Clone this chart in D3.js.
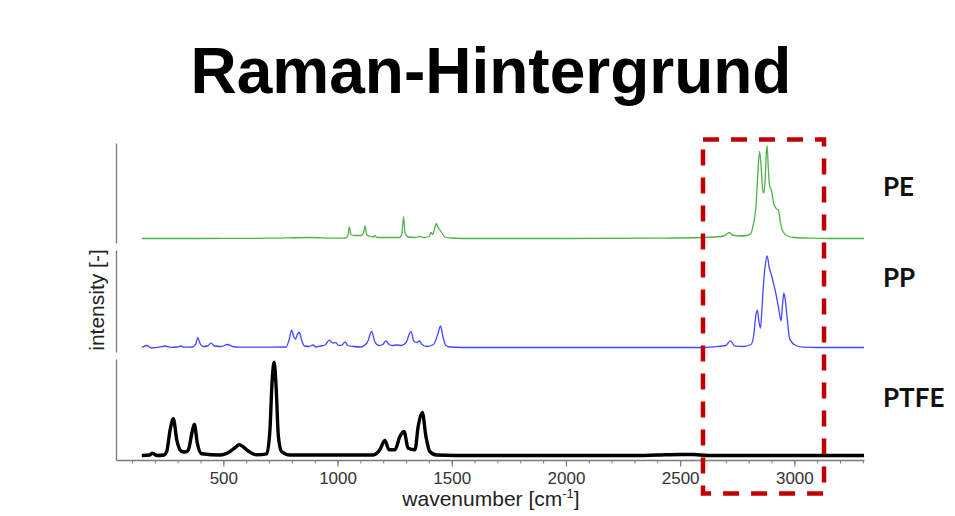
<!DOCTYPE html>
<html>
<head>
<meta charset="utf-8">
<script src="https://cdn.jsdelivr.net/npm/d3@7"></script>
<style>
  html, body { margin: 0; padding: 0; background: #fff; }
  svg { display: block; }
</style>
</head>
<body>
<svg id="chart" width="955" height="516"></svg>
<script>
// ---------- data ----------
const chartTitle = "Raman-Hintergrund";
const categories = ["PE", "PP", "PTFE"];
const seriesColors = ["#4fb34a", "#4646ff", "#000000"];
const xTicks = [500, 1000, 1500, 2000, 2500, 3000];
const xMinorTicks = d3.range(100, 3301, 100);
const highlightRange = [2600, 3130];

// [wavenumber, relative intensity]
const peSpectrum = [
  [143,0],[400,0],[700,0.3],[880,1],[980,0.4],[1035,0.5],[1045,3],[1052,11.5],[1058,4],[1075,3],
  [1105,3],[1114,6],[1121,12.5],[1127,4],[1145,2],[1157,1.5],[1164,3],[1172,1],[1200,1],[1272,1],
  [1282,5],[1289,21.5],[1296,5],[1310,1.5],[1340,1],[1360,2],[1378,1],[1400,2],[1410,6],[1416,4],
  [1426,11],[1433,15],[1440,11],[1450,8],[1458,5],[1470,1.5],[1495,0.5],[1600,0],[2000,0],[2400,0.4],
  [2600,1],[2680,2],[2702,4],[2716,6],[2728,3.5],[2760,2.5],[2790,3],[2810,5],[2819,12.6],[2833,35],
  [2840,64],[2848,87],[2855,70],[2862,48],[2867,45.5],[2872,58],[2877,85],[2881,92.5],[2886,70],
  [2892,52.3],[2900,48],[2909,35.7],[2920,30],[2931,28],[2938,18],[2945,10],[2953,6],[2970,2.5],
  [3000,1],[3080,0.3],[3150,0],[3305,0]
];
const ppSpectrum = [
  [143,0],[165,2],[185,-0.5],[220,0.3],[245,1.5],[270,0.2],[300,0.5],[312,1.5],[330,0.3],[365,0.5],
  [380,4],[388,10],[398,4],[412,1],[430,1.5],[446,4.4],[462,1.5],[490,1],[519,3],[540,1],[570,0.3],
  [775,0.5],[788,8],[799,17.4],[808,11],[816,8.5],[826,14],[833,15],[842,8],[855,1.5],[875,1],
  [893,2.5],[905,0.5],[925,1.5],[945,2.5],[964,7.4],[975,5],[985,4.5],[992,5],[1005,2],[1020,2.5],
  [1033,5.7],[1045,2],[1070,1],[1100,0.5],[1130,5],[1149,16],[1163,6],[1180,2],[1198,3],[1212,6.7],
  [1225,3],[1240,2],[1260,2.5],[1280,2],[1300,5],[1321,16],[1335,6],[1348,5],[1358,6.5],[1370,3],
  [1390,1],[1420,3],[1440,14],[1451,21.7],[1462,10],[1475,2],[1490,0.5],[1600,0],[2600,0],[2644,0.7],
  [2700,2],[2720,6.7],[2738,1.7],[2775,1],[2810,3],[2822,12],[2832,33],[2838,37.4],[2845,26],
  [2852,19.4],[2858,38],[2863,56.7],[2873,83],[2881,91.7],[2890,80],[2899,73],[2910,63],[2920,53],
  [2932,38],[2942,26.7],[2948,42],[2954,54.4],[2960,48],[2964,40],[2971,24],[2978,10],[2990,5],
  [3001,2.7],[3037,0.3],[3100,0],[3305,0]
];
const ptfeSpectrum = [
  [143,0],[178,0.5],[190,2.3],[209,0],[240,0.5],[252,4],[267,25.7],[281,36.7],[296,15.7],[318,4],
  [335,3.5],[347,5.7],[362,22],[373,31.3],[386,12.3],[405,1.7],[486,0.5],[529,4],[552,8],[570,10.7],
  [585,9],[602,5.7],[646,0.7],[690,1.7],[704,25.7],[713,72],[722,93.3],[731,69],[741,19],[755,4],
  [792,0.5],[1156,0.5],[1185,5.7],[1207,15],[1226,5.7],[1251,5.7],[1273,19],[1291,24],[1309,7.3],
  [1339,5.7],[1353,29],[1371,43],[1387,19],[1404,4],[1433,0.5],[1600,0],[2300,0],[2400,0.5],
  [2500,1],[2560,1],[2620,0],[3305,0]
];
const spectra = [peSpectrum, ppSpectrum, ptfeSpectrum];
const seriesWidths = [1.3, 1.3, 3.4];

// ---------- layout ----------
const svg = d3.select("#chart");
const W = 955, H = 516;
const plotLeft = 116, plotRight = 864;
const panels = [[143, 243], [250, 352], [359, 460]]; // [top, bottom]
const baseOffset = 4.5;

svg.append("rect").attr("width", W).attr("height", H).attr("fill", "#fff");

// title
svg.append("text")
  .attr("x", 491).attr("y", 93)
  .attr("text-anchor", "middle")
  .attr("font-family", "Liberation Sans, Arial, sans-serif")
  .attr("font-weight", "bold")
  .attr("font-size", 64)
  .attr("fill", "#000")
  .text(chartTitle);

const x = d3.scaleLinear().domain([30, 3305]).range([plotLeft, plotRight]);

const axisColor = "#7a7a7a";

// y-axis segments (one per panel)
const yScales = panels.map(([top, bottom]) =>
  d3.scaleLinear().domain([-baseOffset, (bottom - top) - baseOffset]).range([bottom, top]));

yScales.forEach((ys, i) => {
  const g = svg.append("g").attr("transform", `translate(${plotLeft},0)`)
    .call(d3.axisLeft(ys).tickValues([]).tickSizeOuter(0));
  g.select(".domain").attr("stroke", axisColor).attr("stroke-width", 1.3);
});

// x axis: minor ticks
const gMinor = svg.append("g").attr("transform", `translate(0,${panels[2][1]})`)
  .call(d3.axisBottom(x).tickValues(xMinorTicks).tickSize(3.5).tickSizeOuter(0).tickFormat(""));
gMinor.select(".domain").attr("stroke", axisColor).attr("stroke-width", 1.3);
gMinor.selectAll(".tick line").attr("stroke", axisColor).attr("stroke-width", 1);

// x axis: major ticks with labels
const gMajor = svg.append("g").attr("transform", `translate(0,${panels[2][1]})`)
  .call(d3.axisBottom(x).tickValues(xTicks).tickSize(6.5).tickSizeOuter(0).tickPadding(5)
    .tickFormat(d3.format("d")));
gMajor.select(".domain").remove();
gMajor.selectAll(".tick line").attr("stroke", axisColor).attr("stroke-width", 1.2);
gMajor.selectAll(".tick text")
  .attr("font-family", "Liberation Sans, Arial, sans-serif")
  .attr("font-size", 17)
  .attr("fill", "#333");

// axis titles
const xt = svg.append("text")
  .attr("x", 491).attr("y", 506)
  .attr("text-anchor", "middle")
  .attr("font-family", "Liberation Sans, Arial, sans-serif")
  .attr("font-size", 21)
  .attr("fill", "#222");
xt.append("tspan").text("wavenumber [cm");
xt.append("tspan").attr("font-size", 13).attr("dy", -8).text("-1");
xt.append("tspan").attr("dy", 8).text("]");

svg.append("text")
  .attr("transform", "translate(104,300) rotate(-90)")
  .attr("text-anchor", "middle")
  .attr("font-family", "Liberation Sans, Arial, sans-serif")
  .attr("font-size", 21)
  .attr("fill", "#222")
  .text("intensity [-]");

// spectra
spectra.forEach((data, i) => {
  const ys = yScales[i];
  const line = d3.line().x(d => x(d[0])).y(d => ys(d[1])).curve(d3.curveMonotoneX);
  svg.append("path")
    .datum(data)
    .attr("d", line)
    .attr("fill", "none")
    .attr("stroke", seriesColors[i])
    .attr("stroke-width", seriesWidths[i])
    .attr("stroke-linejoin", "round");
});

// series labels
const labelY = [196, 287, 407];
categories.forEach((c, i) => {
  svg.append("text")
    .attr("x", 883).attr("y", labelY[i])
    .attr("font-family", "Lato, sans-serif")
    .attr("font-weight", "bold")
    .attr("font-size", 26)
    .attr("fill", "#111")
    .text(c);
});

// highlight box
svg.append("rect")
  .attr("x", x(highlightRange[0]))
  .attr("y", 139.5)
  .attr("width", x(highlightRange[1]) - x(highlightRange[0]))
  .attr("height", 354)
  .attr("fill", "none")
  .attr("stroke", "#c00000")
  .attr("stroke-width", 4.5)
  .attr("stroke-dasharray", "16,12");
</script>
</body>
</html>
